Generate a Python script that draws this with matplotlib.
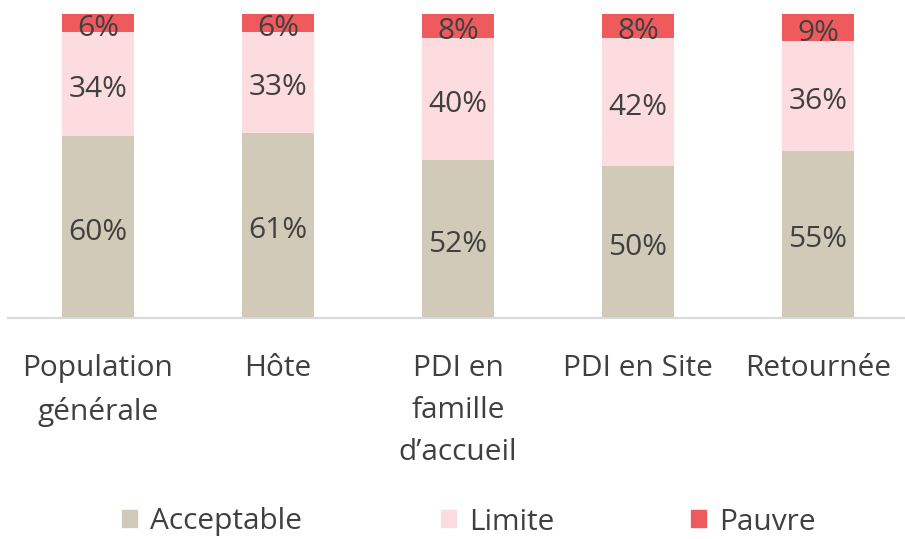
import numpy as np
import matplotlib.pyplot as plt
from matplotlib.patches import Patch

plt.rcParams['font.family'] = ['Open Sans', 'DejaVu Sans']

categories = ['Population\ngénérale', 'Hôte', 'PDI en\nfamille\nd’accueil', 'PDI en Site', 'Retournée']
acceptable = [60, 61, 52, 50, 55]
limite = [34, 33, 40, 42, 36]
pauvre = [6, 6, 8, 8, 9]
series_names = ['Acceptable', 'Limite', 'Pauvre']
colors = ['#D1CAB8', '#FCDCDE', '#EF5B5C']
text_color = '#404040'

fig = plt.figure(figsize=(9.05, 5.39), dpi=100)
ax = fig.add_axes([8/905, (539-318)/539, 900/905, 304/539])

x = np.arange(len(categories))
bottom = np.zeros(len(categories))
for vals, col in zip([acceptable, limite, pauvre], colors):
    vals = np.array(vals)
    ax.bar(x, vals, 0.4, bottom=bottom, color=col)
    for xi, b, v in zip(x, bottom, vals):
        ax.annotate(f'{v}%', (xi, b + v/2), xytext=(0, -4), textcoords='offset points',
                    ha='center', va='center', fontsize=21.5, color=text_color)
    bottom += vals

ax.set_xlim(-0.5, 4.5)
ax.set_ylim(0, 100)
ax.set_yticks([])
for s in ['top', 'right', 'left']:
    ax.spines[s].set_visible(False)
ax.spines['bottom'].set_color('#D9D9D9')
ax.spines['bottom'].set_linewidth(1.5)
ax.set_xticks(x)
ax.set_xticklabels(categories, fontsize=21.5, color=text_color, linespacing=1.59)
ax.tick_params(axis='x', length=0, pad=26)

# legend, one entry per box
leg_x = [122, 441, 691]
for name, col, lx in zip(series_names, colors, leg_x):
    fig.legend(handles=[Patch(color=col, label=name)], loc='center left',
               bbox_to_anchor=(lx/905 - 0.03, 1 - 522/539), frameon=False,
               fontsize=21.5, labelcolor=text_color, handlelength=0.5,
               handleheight=0.5, handletextpad=0.45)

fig.savefig('out.png', dpi=100)
